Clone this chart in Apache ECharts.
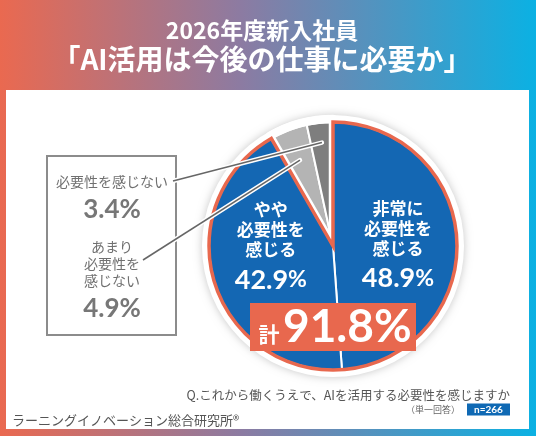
<!DOCTYPE html>
<html>
<head>
<meta charset="utf-8">
<script src="https://cdn.jsdelivr.net/npm/echarts@6/dist/echarts.min.js"></script>
<style>
  html, body { margin: 0; padding: 0; background: #fff; }
  #chart { width: 536px; height: 436px; }
</style>
</head>
<body>
<div id="chart"></div>
<script>
// ---- data ----
const titleLine1 = "2026年度新入社員";
const titleLine2 = "「AI活用は今後の仕事に必要か」";
const categories = ["非常に必要性を感じる", "やや必要性を感じる", "あまり必要性を感じない", "必要性を感じない"];
const categoryLines = [["非常に", "必要性を", "感じる"], ["やや", "必要性を", "感じる"], ["あまり", "必要性を", "感じない"], ["必要性を感じない"]];
const values = [48.9, 42.9, 4.9, 3.4];
const totalPrefix = "計";
const question = "Q.これから働くうえで、AIを活用する必要性を感じますか";
const answerType = "（単一回答）";
const sampleSize = "n=266";
const source = "ラーニングイノベーション総合研究所®";

// ---- styling / layout ----
const BLUE = "#1467B3", ORANGE = "#E8684E", GREY_L = "#B4B4B4", GREY_D = "#7E7E7E";
const JP = '"Noto Sans CJK JP", "Noto Sans", sans-serif';
const NUM = 'Lato, "Noto Sans", sans-serif';
const cx = 333, cy = 246, R = 124;

const agreeSum = values[0] + values[1];
const disagreeSum = values[2] + values[3];
const total = values.reduce((a, b) => a + b, 0);
function midAngle(i) {
  let before = 0;
  for (let k = 0; k < i; k++) before += values[k];
  return (before + values[i] / 2) / total * 2 * Math.PI;
}
function polar(theta, r) { return [cx + r * Math.sin(theta), cy - r * Math.cos(theta)]; }

const pieBase = {
  type: 'pie', center: [cx, cy], radius: [0, R], startAngle: 90, clockwise: true,
  silent: true, animation: false, avoidLabelOverlap: false,
  label: { show: false }, labelLine: { show: false }, emphasis: { disabled: true }
};
const none = { color: 'transparent', borderWidth: 0 };

const seriesGrey = Object.assign({}, pieBase, {
  z: 2,
  data: values.map((v, i) => ({
    value: v, name: categories[i],
    itemStyle: i === 2 ? { color: GREY_L, borderColor: '#fff', borderWidth: 2 }
             : i === 3 ? { color: GREY_D, borderColor: '#fff', borderWidth: 2 } : none
  }))
});
const seriesGap = Object.assign({}, pieBase, {
  z: 3, radius: [0, R + 3],
  data: [
    { value: agreeSum, itemStyle: none },
    { value: disagreeSum, itemStyle: { color: 'transparent', borderColor: '#fff', borderWidth: 8.5 } }
  ]
});
const labelPads = [[10, 0, 0, 0], [0, 0, 30, 0]];
const seriesBlue = Object.assign({}, pieBase, {
  z: 4,
  data: values.map((v, i) => ({
    value: v, name: categories[i],
    itemStyle: i < 2 ? { color: BLUE, borderColor: '#fff', borderWidth: 2 } : none,
    label: i < 2 ? { show: true, padding: labelPads[i] } : { show: false }
  })),
  label: {
    show: true, position: 'inside',
    formatter: p => categoryLines[p.dataIndex].map(l => '{n|' + l + '}').join('\n') +
      '\n{v|' + p.value.toFixed(1) + '}{p|%}',
    rich: {
      n: { fontFamily: JP, fontWeight: 'bold', fontSize: 17, lineHeight: 20, color: '#fff', align: 'center' },
      v: { fontFamily: NUM, fontWeight: 'bold', fontSize: 27, lineHeight: 40, color: '#fff' },
      p: { fontFamily: NUM, fontWeight: 'bold', fontSize: 23, lineHeight: 40, color: '#fff' }
    }
  }
});
const seriesOutline = Object.assign({}, pieBase, {
  z: 5,
  data: [
    { value: agreeSum, itemStyle: { color: 'transparent', borderColor: ORANGE, borderWidth: 3.5, borderJoin: 'miter' } },
    { value: disagreeSum, itemStyle: none }
  ]
});

// leader lines
const lineStarts = [[173, 181], [143, 260]];
const endDark = polar(midAngle(3), 104);
const endLight = polar(midAngle(2), 92);
function leader(start, end) {
  return [
    { type: 'line', z: 10, shape: { x1: start[0], y1: start[1], x2: end[0], y2: end[1] },
      style: { stroke: '#fff', lineWidth: 4.5, lineCap: 'round' } },
    { type: 'line', z: 11, shape: { x1: start[0], y1: start[1], x2: end[0], y2: end[1] },
      style: { stroke: '#666', lineWidth: 1.5 } }
  ];
}
function txt(x, y, text, font, fill, align, z) {
  return { type: 'text', x: x, y: y, z: z || 12,
    style: { text: text, font: font, fill: fill, textAlign: align || 'center', textVerticalAlign: 'middle' } };
}

const graphics = [
  { type: 'rect', z: -10, shape: { x: 0, y: 0, width: 536, height: 436 },
    style: { fill: new echarts.graphic.LinearGradient(0, 0, 1, 0, [
      { offset: 0, color: '#EA6950' }, { offset: 0.45, color: '#8C7BA2' }, { offset: 1, color: '#0BB1E3' }]) } },
  { type: 'rect', z: -9, shape: { x: 6, y: 90, width: 523, height: 339 }, style: { fill: '#fff' } },
  txt(262, 30, titleLine1, 'bold 23px ' + JP, '#fff'),
  txt(262, 59, titleLine2, 'bold 28px ' + JP, '#fff'),
  { type: 'circle', z: 1, shape: { cx: cx, cy: cy, r: R + 7 },
    style: { fill: '#fff', shadowBlur: 8, shadowColor: 'rgba(0,0,0,0.22)' } },
  { type: 'rect', z: 5, shape: { x: 47, y: 156, width: 129, height: 179 },
    style: { fill: 'none', stroke: '#8C8C8C', lineWidth: 2 } },
  txt(112, 182, categoryLines[3][0], '14px ' + JP, '#707070'),
  txt(112, 210, values[3].toFixed(1) + '%', 'bold 26px ' + NUM, '#777'),
  txt(112, 247, categoryLines[2][0], '14px ' + JP, '#707070'),
  txt(112, 264, categoryLines[2][1], '14px ' + JP, '#707070'),
  txt(112, 281, categoryLines[2][2], '14px ' + JP, '#707070'),
  txt(112, 309, values[2].toFixed(1) + '%', 'bold 26px ' + NUM, '#777'),
  ...leader(lineStarts[0], endDark),
  ...leader(lineStarts[1], endLight),
  { type: 'rect', z: 20, shape: { x: 250, y: 303, width: 166, height: 48 }, style: { fill: ORANGE } },
  txt(269, 334, totalPrefix, 'bold 21px ' + JP, '#fff', 'center', 21),
  txt(283, 327, agreeSum.toFixed(1) + '%', 'bold 46px ' + NUM, '#fff', 'left', 21),
  txt(510, 395, question, '12.5px ' + JP, '#555', 'right'),
  txt(460, 409.5, answerType, '9px ' + JP, '#666', 'right'),
  { type: 'rect', z: 12, shape: { x: 467, y: 403.5, width: 43, height: 12 }, style: { fill: '#0F69B4' } },
  txt(488.5, 409.5, sampleSize, 'bold 10px ' + NUM, '#fff', 'center', 13),
  txt(12, 420, source, '13px ' + JP, '#555', 'left')
];

const chart = echarts.init(document.getElementById('chart'), null, { renderer: 'canvas' });
chart.setOption({
  animation: false,
  backgroundColor: '#fff',
  series: [seriesGrey, seriesGap, seriesBlue, seriesOutline],
  graphic: { elements: graphics }
});
</script>
</body>
</html>
